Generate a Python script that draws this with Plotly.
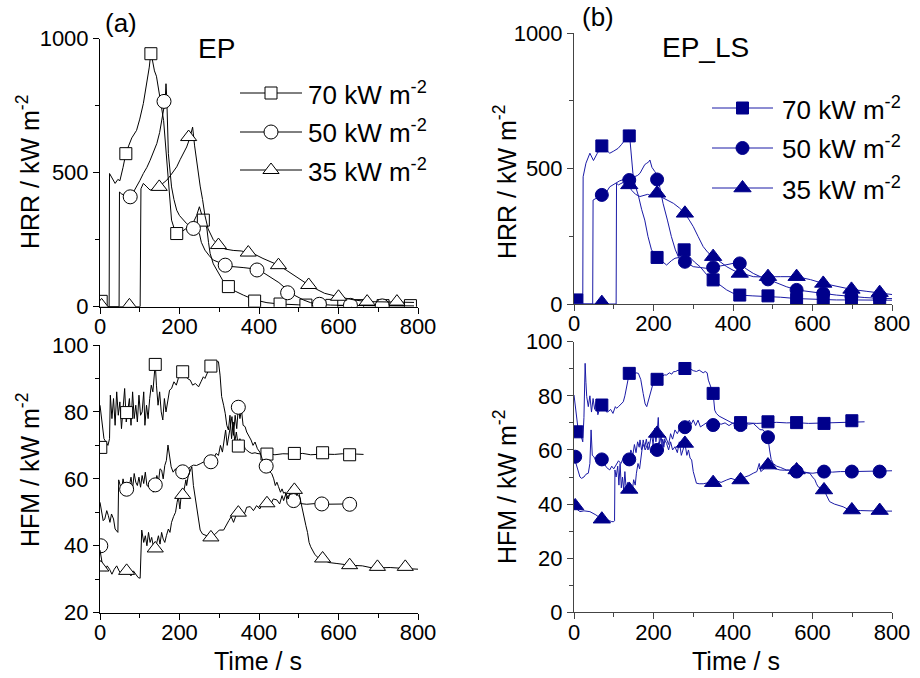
import plotly.graph_objects as go

# ---------------- data (time s, value) ----------------
EP_HRR_70 = [(0,25),(5,15),(10,2),(20,0),(23,0),(24,497),(30,480),(38,460),(45,475),(50,470),(58,520),(65,571),(72,600),(80,630),(92,658),(100,700),(109,758),(116,820),(124,894),(128,950),(131,930),(137,880),(142,860),(147,820),(153,760),(160,695),(165,600),(170,509),(175,420),(180,323),(187,290),(193,273),(201,275),(210,285),(220,295),(230,300),(243,340),(250,373),(255,345),(260,323),(264,320),(269,290),(273,240),(277,199),(285,160),(298,124),(310,95),(323,75),(340,58),(361,43),(375,35),(390,25),(420,15),(453,10),(500,7),(550,5),(600,4),(650,4),(700,3),(750,3),(790,3)]
EP_HRR_70_M = [(3,20),(65,571),(128,944),(193,273),(260,323),(323,75),(389,21),(453,10),(518,6),(583,5),(648,4),(712,4),(781,4)]

EP_HRR_50 = [(0,0),(20,0),(40,0),(48,0),(49,428),(55,420),(65,415),(76,410),(85,430),(92,447),(100,470),(109,497),(118,520),(126,546),(135,580),(143,609),(150,650),(155,695),(160,740),(164,770),(166,832),(168,780),(172,571),(176,500),(180,447),(186,400),(193,360),(200,340),(210,323),(218,310),(227,300),(235,292),(243,280),(250,273),(255,240),(264,211),(275,190),(285,174),(300,165),(315,155),(330,150),(344,149),(360,146),(378,143),(395,137),(410,128),(428,112),(450,90),(472,62),(490,42),(512,25),(530,15),(552,9),(580,6),(620,5),(660,4),(700,3),(750,3),(790,3)]
EP_HRR_50_M = [(76,410),(161,766),(235,292),(315,155),(395,137),(472,52),(552,9),(630,5),(710,3)]

EP_HRR_35 = [(0,0),(50,0),(90,0),(101,0),(103,440),(109,460),(116,450),(126,435),(135,440),(149,447),(158,460),(168,472),(180,495),(193,522),(202,550),(210,571),(218,596),(225,625),(231,658),(233,670),(238,600),(245,520),(252,450),(258,400),(264,340),(272,290),(285,250),(298,230),(315,215),(335,210),(355,208),(373,202),(390,195),(410,180),(430,168),(449,155),(470,135),(490,115),(510,95),(525,81),(545,65),(565,50),(600,37),(640,25),(672,19),(710,18),(747,17),(790,16)]
EP_HRR_35_M = [(4,5),(74,5),(149,447),(223,633),(298,230),(373,202),(449,155),(525,81),(600,37),(672,19),(747,19)]

LS_HRR_70 = [(0,10),(8,10),(15,0),(22,0),(23,470),(30,520),(40,557),(49,530),(58,555),(70,584),(80,570),(90,557),(100,565),(111,575),(120,590),(128,606),(134,635),(137,643),(140,620),(144,540),(149,470),(155,433),(162,400),(170,350),(178,310),(186,250),(195,200),(209,172),(220,160),(233,144),(245,160),(254,169),(265,172),(277,200),(290,175),(303,155),(317,138),(333,110),(350,89),(367,70),(384,52),(400,40),(417,33),(450,30),(488,28),(520,25),(560,20),(600,17),(627,16),(660,15),(698,15),(740,15),(769,14),(800,14)]
LS_HRR_70_M = [(7,15),(70,584),(139,621),(209,172),(277,200),(350,89),(417,33),(488,30),(560,17),(627,16),(698,15),(769,14)]

LS_HRR_50 = [(0,0),(20,0),(40,0),(47,0),(48,384),(55,390),(62,395),(70,403),(80,410),(90,433),(98,440),(107,446),(115,455),(125,460),(132,470),(139,458),(146,450),(152,470),(160,475),(166,483),(172,500),(178,515),(183,520),(188,525),(191,532),(196,505),(203,490),(209,475),(216,430),(224,372),(235,310),(245,249),(255,200),(266,163),(279,156),(290,145),(300,138),(316,135),(333,132),(350,135),(367,140),(383,145),(400,150),(417,150),(433,130),(451,113),(470,100),(488,91),(510,78),(534,64),(560,52),(590,45),(627,39),(660,33),(698,27),(730,24),(769,21),(800,20)]
LS_HRR_50_M = [(70,403),(139,458),(209,460),(279,156),(350,135),(417,150),(488,91),(560,52),(627,39),(698,27),(769,21)]

LS_HRR_35 = [(0,0),(50,0),(95,0),(106,0),(107,446),(112,440),(118,445),(125,450),(132,440),(137,440),(145,420),(155,405),(166,397),(175,400),(185,405),(195,400),(209,409),(220,395),(233,385),(250,372),(265,355),(279,335),(290,310),(300,286),(312,250),(325,212),(337,190),(350,175),(367,155),(384,138),(400,125),(417,113),(435,108),(451,101),(470,100),(488,101),(520,101),(560,101),(595,90),(627,76),(660,65),(698,54),(735,47),(769,42),(800,35)]
LS_HRR_35_M = [(70,5),(139,440),(209,409),(279,335),(350,175),(417,113),(488,101),(560,101),(627,76),(698,54),(769,42)]

EP_HFM_70 = [(0,82),(5,77),(10,72),(15,71),(20,70),(24,72),(26,85),(30,78),(34,84),(38,76),(42,86),(46,79),(50,83),(54,75),(58,81),(62,87),(66,77),(70,80),(74,84),(78,76),(82,86),(86,78),(90,82),(94,77),(98,85),(102,79),(106,80),(110,86),(113,76),(117,82),(121,78),(125,84),(129,88),(133,86),(137,91),(139,94.5),(142,88),(146,82),(150,86),(154,80),(158,77.6),(162,84),(166,80),(170,83.6),(175,86.5),(180,87),(186,89),(192,88),(197,90),(203,91),(208,92),(214,91),(220,90),(227,89.5),(233,88),(240,88.5),(248,87.5),(254,89),(260,90.5),(264,90),(270,92),(275,93),(279,93.7),(285,94),(292,95),(298,95),(302,91),(306,84.6),(311,82),(315,79.6),(319,76),(323,74.6),(327,79),(331,72),(335,77),(339,71),(343,74),(348,69.8),(352,72),(356,70),(360,71),(365,69),(369,68.6),(375,68),(382,67.6),(390,67.8),(395,67.6),(405,67.4),(420,67.6),(440,67.2),(460,67.5),(489,67.4),(510,67.6),(530,67.2),(560,67.4),(590,67.3),(610,67.5),(628,67.2),(645,67.4),(663,67.3)]
EP_HFM_70_M = [(2,69.4),(67,79.8),(139,94.2),(208,92),(279,93.7),(348,69.8),(420,67.4),(489,67.6),(560,67.8),(628,67.2)]

EP_HFM_50 = [(0,53),(4,50),(8,47.5),(12,48),(17,50.5),(21,49),(25,47),(29,49.5),(34,48),(38,45),(42,44.2),(45,44),(47,59.7),(50,58),(54,56.7),(58,60),(62,57.5),(66,59),(70,56.9),(74,58),(78,60.5),(82,57),(86,61.6),(90,59),(94,58),(98,60.5),(102,57.5),(106,61),(110,58.6),(114,62),(118,58),(122,57.7),(126,59.5),(130,57.7),(134,56),(139,58.2),(143,61),(147,59),(151,63),(155,62.6),(159,60),(163,64),(167,65.5),(171,70.1),(175,66),(179,63.6),(184,62),(190,63),(196,61.5),(202,62.1),(208,62.1),(214,63),(220,62.5),(227,63.6),(235,64.1),(243,64),(252,64.5),(260,65),(268,65.1),(279,65.1),(286,66),(292,67.6),(298,67),(303,70),(308,68),(312,72),(316,74.6),(320,70),(324,73),(328,76),(332,78.6),(336,73),(340,79),(344,75),(348,81.4),(352,78),(356,80.5),(360,76),(365,75.6),(369,74),(374,73),(380,71.6),(385,70),(390,71),(396,69),(402,68),(408,66),(413,65),(418,63.8),(424,64),(428,62),(432,61.6),(437,60),(441,58),(445,59),(449,57.7),(454,56),(458,57),(462,55.7),(466,56),(470,54),(476,55),(481,53.5),(487,53.5),(495,53),(505,52.6),(520,52.4),(540,52.6),(558,52.4),(580,52.5),(600,52.4),(628,52.5),(646,52.4)]
EP_HFM_50_M = [(2,40),(67,56.9),(139,58.2),(208,62.1),(279,65.1),(348,81.4),(418,63.8),(487,53.5),(558,52.5),(628,52.4)]

EP_HFM_35 = [(0,38.7),(4,36),(8,33),(13,32.5),(18,34),(24,33),(30,31.5),(36,33),(42,34),(48,32.5),(54,31.5),(60,32.5),(66,33),(72,32),(78,31),(84,32.5),(90,31.5),(96,30.5),(101,30.3),(103,38),(105,44.7),(110,41),(114,43),(118,40),(122,44),(126,41),(130,42.5),(134,40),(139,39.2),(143,41),(147,43),(151,40.5),(155,44),(159,42),(163,41),(167,43),(172,45),(176,44),(180,47),(185,48.7),(190,50),(194,53),(197,54.7),(201,51),(205,56),(208,55.2),(212,57),(216,59.7),(218,58),(222,61),(227,62.6),(231,63.6),(235,58),(239,54.7),(245,50),(252,44.7),(258,43.5),(264,43.2),(272,42.8),(279,42.5),(290,43.5),(300,44.7),(311,44.7),(318,46),(324,47.5),(330,48.7),(336,47),(342,49),(348,49.9),(355,50.5),(362,49),(369,51.5),(378,51.7),(386,50.5),(394,52),(402,51),(410,53),(420,52.7),(428,52),(436,54),(445,53.7),(452,52.5),(458,55),(462,53.5),(468,55.7),(474,54),(480,57.5),(489,56.7),(495,55),(500,56),(505,53),(510,50),(514,48.7),(518,46),(522,44),(526,41),(530,39.7),(535,38.5),(540,37.5),(546,36.7),(553,36),(560,36.2),(575,35),(596,34.7),(628,34.2),(660,34),(688,33.3),(698,33.4),(730,33.5),(768,33.2),(800,33)]
EP_HFM_35_M = [(2,33.5),(67,32.5),(139,39.2),(208,55.2),(279,42.5),(348,49.9),(420,52.7),(489,56.7),(560,36.2),(628,34.2),(698,33.7),(768,33.7)]

LS_HFM_70 = [(0,80.3),(5,74),(10,68),(15,66.7),(20,64),(22,63),(25,72),(28,92),(30,85),(32,79.7),(36,76),(40,80),(44,74),(48,79),(52,75),(56,78),(60,73),(65,75.5),(70,76.6),(76,76),(82,74),(86,74.1),(92,75),(98,73.5),(104,76),(107,75.4),(112,76),(118,77),(124,77.8),(128,80),(132,83.4),(136,86),(139,88.3),(145,87.5),(150,88),(156,88.5),(162,88.3),(168,86),(174,80.9),(179,77),(183,76),(187,78),(191,79.7),(195,82),(199,84.6),(204,86),(209,86.1),(215,86.5),(221,87),(227,87.7),(233,87.7),(240,88.5),(246,88),(250,88.9),(256,89),(262,89.5),(268,88.8),(274,89.5),(279,90.1),(285,89.5),(292,90),(300,89.3),(308,89),(315,89.5),(320,88.9),(325,88.5),(330,89),(335,88.5),(338,85.8),(342,84),(346,82),(350,80.9),(354,74.7),(358,73.5),(365,72.5),(375,71.7),(388,70.5),(400,69.8),(419,70.1),(440,70),(460,69.8),(488,70),(510,70.2),(535,70),(560,70.1),(590,69.8),(629,70),(660,69.9),(699,70.2),(731,70.4)]
LS_HFM_70_M = [(7,66.7),(70,76.6),(139,88.3),(209,86.1),(279,90.1),(350,80.9),(419,70.1),(488,70.4),(560,70.1),(629,69.8),(699,70.8)]

LS_HFM_50 = [(0,57.5),(5,55),(10,52.6),(15,50),(19,49.5),(25,50),(30,51),(36,51.4),(40,55),(43,67.4),(46,58),(50,57.5),(55,56),(60,57),(65,56),(70,56.5),(76,55),(82,53.5),(90,52.6),(95,54),(100,53),(107,55),(112,56),(118,55),(124,57),(130,56),(135,58),(139,56.5),(143,60),(148,58),(152,62),(156,59),(160,63),(164,61),(166,63.7),(170,60),(175,62),(179,60),(183,61.2),(188,63),(193,59),(198,62),(203,58),(209,60),(214,63),(218,59),(222,64),(226,61),(230,65),(233,63.7),(238,62),(243,66),(248,64),(254,67.4),(260,66),(266,68),(272,67.5),(279,68.4),(285,69),(290,71),(295,69.5),(300,71.1),(306,69),(312,71),(318,68.5),(325,69.2),(333,70),(340,69),(350,69.2),(360,70),(370,69.5),(380,70),(390,69),(400,70),(410,69.5),(419,69.2),(430,70),(440,69.5),(451,69.8),(460,68.5),(468,67.5),(476,67.4),(482,66),(488,64.7),(492,60),(496,56.5),(501,55),(510,54),(520,53.5),(534,52.6),(545,52.5),(560,52),(580,51.6),(601,51.4),(615,51.8),(629,52),(650,51.8),(670,52),(699,52),(730,52.1),(769,52),(800,52.3)]
LS_HFM_50_M = [(3,57.5),(70,56.5),(139,56.5),(209,60),(279,68.4),(350,69.2),(419,69.2),(488,64.7),(560,52),(629,52),(699,52),(769,52)]

LS_HFM_35 = [(0,40.3),(3,39.3),(8,38),(15,37.2),(25,37.5),(40,37.2),(55,36),(70,34.4),(80,34.5),(90,33.8),(95,33.5),(100,33.5),(102,33.8),(103,52.6),(106,50),(110,54),(113,47),(116,55),(119,46),(122,50),(125,45),(128,52),(131,46),(135,48),(139,45.4),(143,47),(146,44),(150,49),(154,47),(157,51.4),(161,55),(165,53),(168,58),(171,60),(174,63.7),(178,61),(182,64),(186,60),(191,62.4),(195,66),(199,62),(203,68),(206,63),(209,66.1),(212,72),(215,62),(219,65),(223,61),(227,64),(233,62.4),(238,60),(243,63),(248,60),(254,61.2),(260,59),(265,63),(270,58),(275,61),(279,62.4),(284,58),(288,60),(292,57),(296,56.3),(300,52),(304,50),(308,47.7),(315,47.5),(325,47.5),(335,47.8),(350,47.9),(360,48.5),(370,48),(384,48.9),(395,49.5),(405,49),(419,48.9),(430,50),(440,50.5),(451,51.4),(460,52),(466,55),(470,52),(478,53),(488,54.4),(495,53.5),(505,53),(518,52.6),(530,52.5),(545,52.6),(560,52.6),(575,52),(593,51.4),(600,50),(606,49),(610,47.5),(614,46.4),(620,46),(629,45.2),(636,43),(643,40.9),(655,40),(665,39.5),(677,39),(690,38),(699,37.8),(720,37.6),(745,37.5),(769,37.6),(785,37.4),(800,37.4)]
LS_HFM_35_M = [(3,39.3),(70,34.4),(139,45.4),(209,66.1),(279,62.4),(350,47.9),(419,48.9),(488,54.4),(560,52.6),(629,45.2),(699,37.8),(769,37.6)]

LEGEND_LABELS = ["70 kW m<sup>-2</sup>", "50 kW m<sup>-2</sup>", "35 kW m<sup>-2</sup>"]
SYMBOLS = ["square", "circle", "triangle-up"]

# ---------------- layout helpers ----------------
W, H = 920, 678
NAVY = "#00008b"
NAVY_LINE = "#1a1aa6"

def fx(p):
    return p / W

def fy(p):
    return 1 - p / H

fig = go.Figure()

def add_series(pairs, mpairs, xa, ya, symbol, line_color, fill, edge, msize):
    t = [p[0] for p in pairs]
    v = [p[1] for p in pairs]
    fig.add_trace(go.Scatter(x=t, y=v, mode="lines", xaxis=xa, yaxis=ya,
                             line=dict(color=line_color, width=1), showlegend=False,
                             hoverinfo="skip"))
    tm = [p[0] for p in mpairs]
    vm = [p[1] for p in mpairs]
    fig.add_trace(go.Scatter(x=tm, y=vm, mode="markers", xaxis=xa, yaxis=ya,
                             marker=dict(symbol=symbol, size=msize, color=fill,
                                         line=dict(color=edge, width=1)),
                             showlegend=False, hoverinfo="skip"))

left_series_hrr = [(EP_HRR_70, EP_HRR_70_M), (EP_HRR_50, EP_HRR_50_M), (EP_HRR_35, EP_HRR_35_M)]
left_series_hfm = [(EP_HFM_70, EP_HFM_70_M), (EP_HFM_50, EP_HFM_50_M), (EP_HFM_35, EP_HFM_35_M)]
right_series_hrr = [(LS_HRR_70, LS_HRR_70_M), (LS_HRR_50, LS_HRR_50_M), (LS_HRR_35, LS_HRR_35_M)]
right_series_hfm = [(LS_HFM_70, LS_HFM_70_M), (LS_HFM_50, LS_HFM_50_M), (LS_HFM_35, LS_HFM_35_M)]

open_sizes = [12, 14, 14]
fill_sizes = [12, 13, 15]

for (s, m), sym, sz in zip(left_series_hrr, SYMBOLS, open_sizes):
    add_series(s, m, "x", "y", sym, "black", "white", "black", sz)
for (s, m), sym, sz in zip(left_series_hfm, SYMBOLS, open_sizes):
    add_series(s, m, "x2", "y2", sym, "black", "white", "black", sz)
for (s, m), sym, sz in zip(right_series_hrr, SYMBOLS, fill_sizes):
    add_series(s, m, "x3", "y3", sym, NAVY_LINE, NAVY, NAVY, sz)
for (s, m), sym, sz in zip(right_series_hfm, SYMBOLS, fill_sizes):
    add_series(s, m, "x4", "y4", sym, NAVY_LINE, NAVY, NAVY, sz)

# ---------------- legends (drawn in pixel space overlay) ----------------
FONT = "Liberation Sans, Arial"

def draw_legend(x0, x1, xtext, rows, line_color, fill, edge, sizes):
    for lab, sym, yrow, sz in zip(LEGEND_LABELS, SYMBOLS, rows, sizes):
        fig.add_trace(go.Scatter(x=[x0, x1], y=[yrow, yrow], mode="lines",
                                 xaxis="x5", yaxis="y5",
                                 line=dict(color=line_color, width=1),
                                 showlegend=False, hoverinfo="skip"))
        fig.add_trace(go.Scatter(x=[(x0 + x1) / 2], y=[yrow], mode="markers",
                                 xaxis="x5", yaxis="y5",
                                 marker=dict(symbol=sym, size=sz, color=fill,
                                             line=dict(color=edge, width=1)),
                                 showlegend=False, hoverinfo="skip"))
        fig.add_annotation(x=fx(xtext), y=fy(yrow), xref="paper", yref="paper",
                           text=lab, showarrow=False, xanchor="left", yanchor="middle",
                           font=dict(size=26, color="black", family=FONT))

draw_legend(240, 302, 306, [93, 132, 170], "black", "white", "black", open_sizes)
draw_legend(712, 773, 780, [108, 148, 188], NAVY_LINE, NAVY, NAVY, fill_sizes)

# ---------------- axes ----------------
tickfont = dict(size=22, color="black", family=FONT)

def xaxis(domain, anchor, color):
    return dict(domain=domain, anchor=anchor, range=[0, 800], tick0=0, dtick=200,
                showline=True, linecolor=color, linewidth=1, ticks="outside",
                ticklen=6, tickwidth=1, tickcolor=color, tickfont=tickfont,
                ticklabelstandoff=-6,
                minor=dict(dtick=100, tick0=0, ticklen=4, tickcolor=color, ticks="outside"),
                showgrid=False, zeroline=False, mirror=False, fixedrange=True,
                automargin=False)

def yaxis(domain, anchor, rng, dtick, mdtick, color):
    return dict(domain=domain, anchor=anchor, range=rng, tick0=rng[0], dtick=dtick,
                showline=True, linecolor=color, linewidth=1, ticks="outside",
                ticklen=6, tickwidth=1, tickcolor=color, tickfont=tickfont,
                minor=dict(dtick=mdtick, tick0=rng[0], ticklen=4, tickcolor=color, ticks="outside"),
                showgrid=False, zeroline=False, mirror=False, fixedrange=True,
                automargin=False)

LX = [fx(100), fx(418)]
RX = [fx(574), fx(892)]
LTY = [fy(306.7), fy(38.7)]
LBY = [fy(612.7), fy(345)]
RTY = [fy(304), fy(33.3)]
RBY = [fy(612.3), fy(341.7)]

AX_L = "black"
AX_R = "#444444"

fig.update_layout(
    width=W, height=H, margin=dict(l=0, r=0, t=0, b=0, autoexpand=False),
    paper_bgcolor="white", plot_bgcolor="rgba(0,0,0,0)",
    showlegend=False,
    xaxis=xaxis(LX, "y", AX_L),
    yaxis=yaxis(LTY, "x", [0, 1000], 500, 250, AX_L),
    xaxis2=xaxis(LX, "y2", AX_L),
    yaxis2=yaxis(LBY, "x2", [20, 100], 20, 10, AX_L),
    xaxis3=xaxis(RX, "y3", AX_R),
    yaxis3=yaxis(RTY, "x3", [0, 1000], 500, 250, AX_R),
    xaxis4=xaxis(RX, "y4", AX_R),
    yaxis4=yaxis(RBY, "x4", [0, 100], 20, 10, AX_R),
    xaxis5=dict(domain=[0, 1], anchor="y5", range=[0, W], visible=False, fixedrange=True, automargin=False),
    yaxis5=dict(domain=[0, 1], anchor="x5", range=[H, 0], visible=False, fixedrange=True, automargin=False),
)

# ---------------- texts ----------------
def txt(x, y, s, size, angle=0):
    fig.add_annotation(x=fx(x), y=fy(y), xref="paper", yref="paper", text=s,
                       showarrow=False, xanchor="center", yanchor="middle",
                       textangle=angle,
                       font=dict(size=size, color="black", family=FONT))

txt(28, 172, "HRR / kW m<sup>-2</sup>", 25, -90)
txt(28, 470, "HFM / kW m<sup>-2</sup>", 25, -90)
txt(505, 182, "HRR / kW m<sup>-2</sup>", 25, -90)
txt(505, 487, "HFM / kW m<sup>-2</sup>", 25, -90)
txt(258, 661, "Time / s", 25)
txt(736, 661, "Time / s", 25)
txt(121, 23, "(a)", 26)
txt(216, 48, "EP", 28)
txt(598, 17, "(b)", 26)
txt(705, 47, "EP_LS", 28)

fig.write_html("out.html")
